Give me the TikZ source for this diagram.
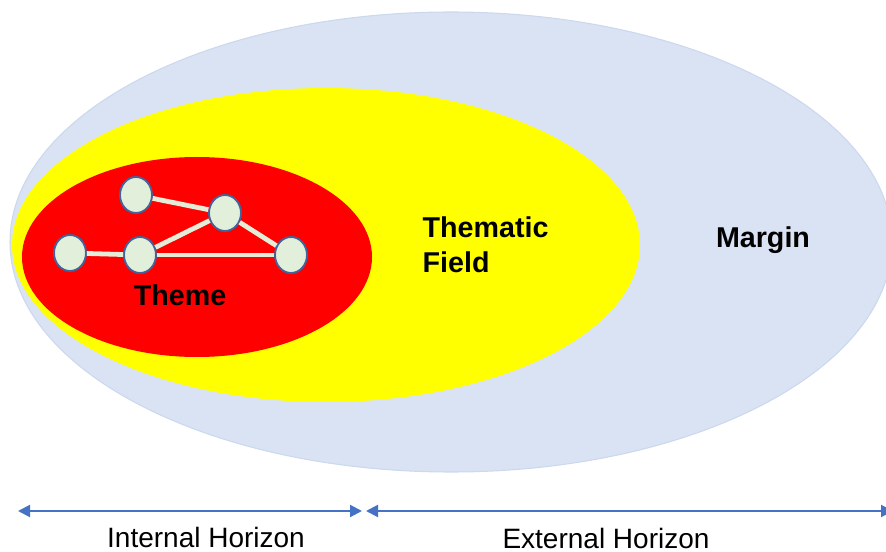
\documentclass[tikz,border=0pt]{standalone}
\usepackage{fontspec}
\setmainfont{Liberation Sans}
\usetikzlibrary{shapes.geometric,arrows.meta}

\definecolor{marginblue}{HTML}{DAE3F3}
\definecolor{marginline}{HTML}{CCD8EE}
\definecolor{fieldyellow}{HTML}{FFFF00}
\definecolor{themered}{HTML}{FF0000}
\definecolor{vertexfill}{HTML}{E2EFDA}
\definecolor{vertexline}{HTML}{41649C}
\definecolor{edgecol}{HTML}{E4EDD8}
\definecolor{horizon}{HTML}{4472C4}

\begin{document}
\begin{tikzpicture}[
    x=0.75pt, y=-0.75pt,
    zone/.style={ellipse, inner sep=0pt},
    vertex/.style={ellipse, draw=vertexline, line width=1.4pt, fill=vertexfill, minimum width=24pt, minimum height=27pt, inner sep=0pt},
    link/.style={draw=edgecol, line width=3.6pt},
    label/.style={font=\fontsize{21.5}{26}\selectfont\bfseries, align=left},
    hlabel/.style={font=\fontsize{21}{24}\selectfont},
    span/.style={{Triangle[length=9pt,width=9pt]}-{Triangle[length=9pt,width=9pt]}, draw=horizon, line width=1.5pt}
  ]
    \useasboundingbox (0,0) rectangle (886,552);
    \clip (0,0) rectangle (886,552);

    \node[zone, fill=marginblue, draw=marginline, line width=0.8pt, minimum width=661.5pt, minimum height=345pt] (margin) at (451,242) {};
    \node[zone, fill=fieldyellow, minimum width=471pt, minimum height=235.5pt] (field) at (326,245) {};
    \node[zone, fill=themered, minimum width=262.5pt, minimum height=150pt] (theme) at (197,257) {};

    \node[vertex] (v1) at (136,195) {};
    \node[vertex] (v2) at (225,213) {};
    \node[vertex] (v3) at (70,253) {};
    \node[vertex] (v4) at (140,255) {};
    \node[vertex] (v5) at (291,255) {};

    \draw[link] (v1) -- (v2);
    \draw[link] (v2) -- (v4);
    \draw[link] (v2) -- (v5);
    \draw[link] (v3) -- (v4);
    \draw[link] (v4) -- (v5);

    \node[label] (themetext) at (180,295) {Theme};
    \node[label, anchor=west] (fieldtext) at (418,245) {Thematic\\Field};
    \node[label] (margintext) at (763,240) {Margin};

    \coordinate (hleft) at (18,511);
    \coordinate (hmid1) at (362,511);
    \coordinate (hmid2) at (366,511);
    \coordinate (hright) at (893,511);
    \draw[span] (hleft) -- (hmid1);
    \draw[span] (hmid2) -- (hright);

    \node[hlabel] (internal) at (206,537) {Internal Horizon};
    \node[hlabel] (external) at (606,538) {External Horizon};
  \end{tikzpicture}
\end{document}
